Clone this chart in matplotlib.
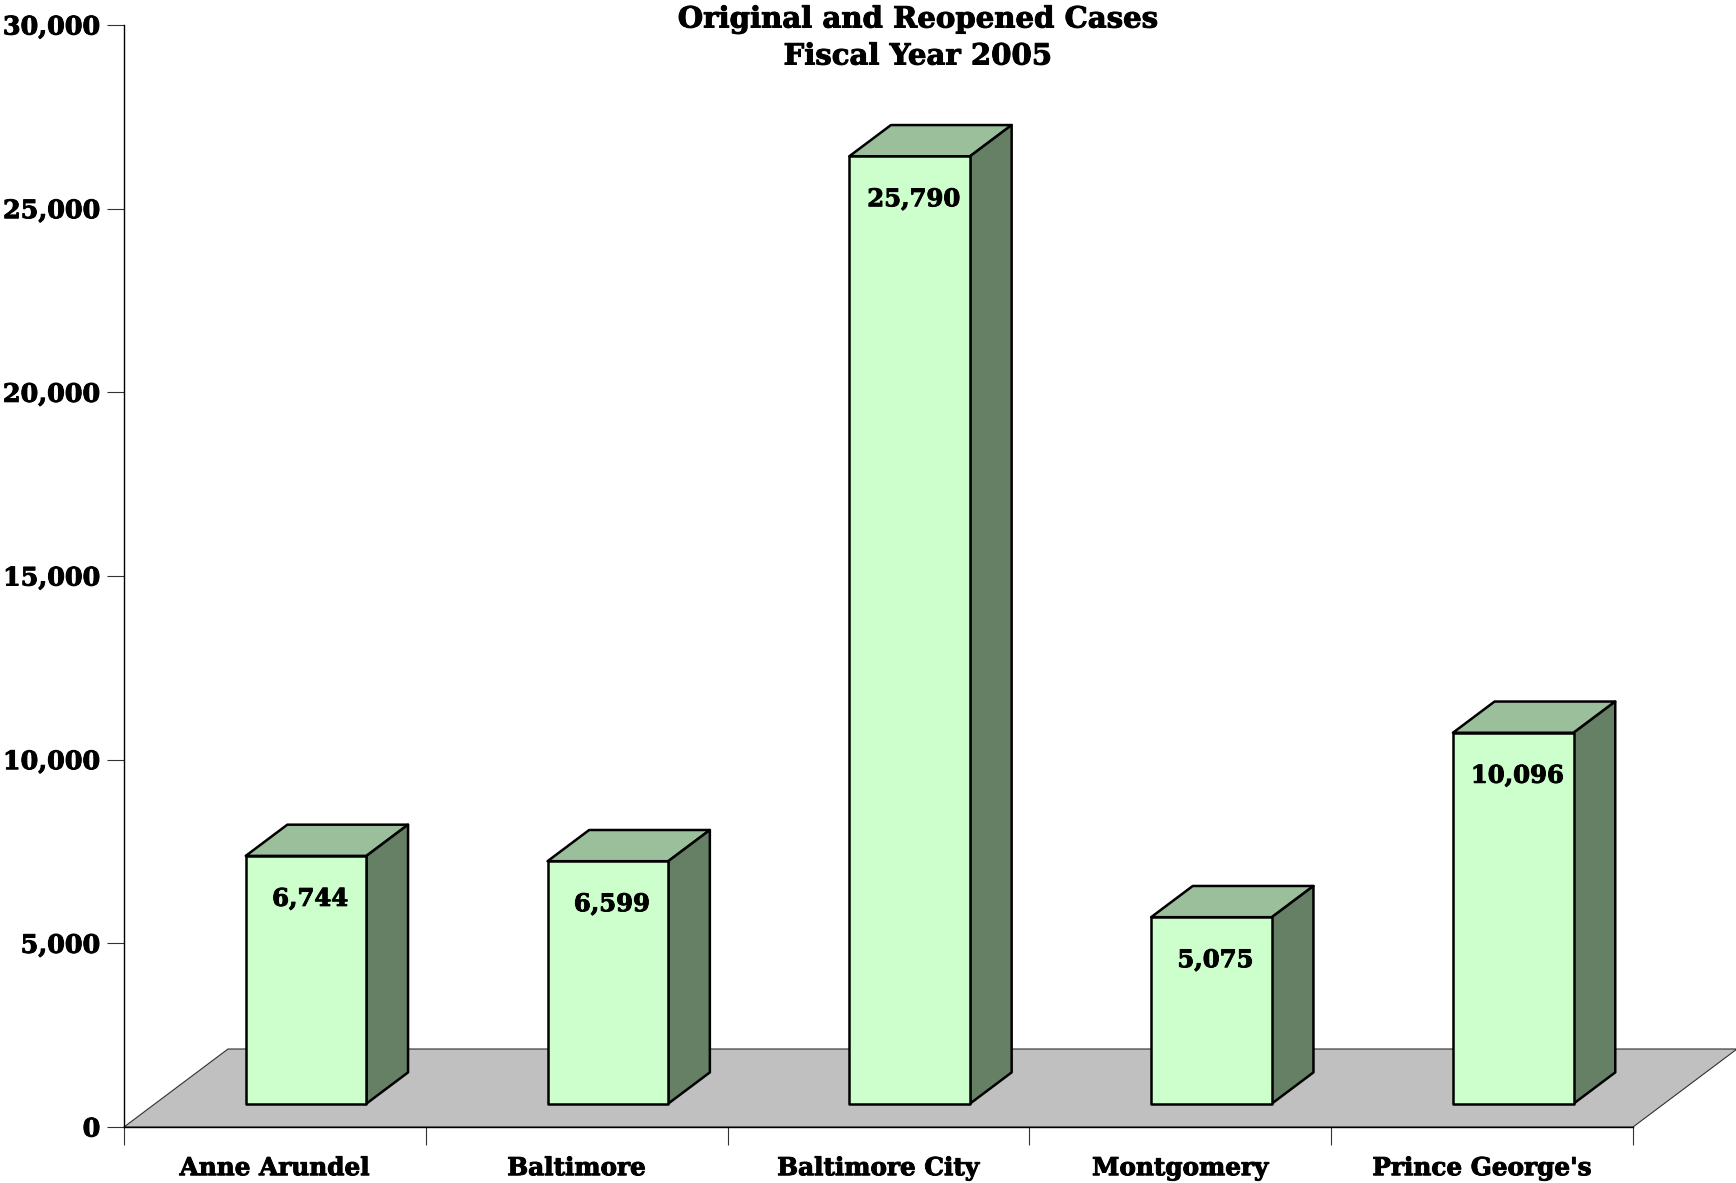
import matplotlib
matplotlib.use("Agg")
import matplotlib.pyplot as plt
from matplotlib.patches import Polygon
import matplotlib.patheffects as pe

categories = ["Anne Arundel", "Baltimore", "Baltimore City", "Montgomery", "Prince George's"]
values = [6744, 6599, 25790, 5075, 10096]
yticks = [0, 5000, 10000, 15000, 20000, 25000, 30000]
title_lines = ["Original and Reopened Cases", "Fiscal Year 2005"]

W, H, DPI = 1736, 1183, 100
FONT = "DejaVu Serif"
FRONT, TOP, SIDE, FLOOR = "#CCFFCC", "#9BBF9B", "#668066", "#C0C0C0"
HEAVY = [pe.withStroke(linewidth=0.7, foreground="black")]

fig = plt.figure(figsize=(W / DPI, H / DPI), dpi=DPI)
ax_l, ax_r, ax_b, ax_t = 124, 1633, 1127, 25
ax = fig.add_axes([ax_l / W, 1 - ax_b / H, (ax_r - ax_l) / W, (ax_b - ax_t) / H])
n = len(categories)
ax.set_xlim(0, n)
ax.set_ylim(0, 30000)

# depth offsets (style) converted from pixels into data units
px_per_cat = (ax_r - ax_l) / n
px_per_val = (ax_b - ax_t) / 30000
ddx = 104 / px_per_cat
ddy = 78 / px_per_val

# floor
floor = Polygon([(0, 0), (n, 0), (n + ddx, ddy), (ddx, ddy)], closed=True,
                facecolor=FLOOR, edgecolor="#303030", lw=0.8, clip_on=False, zorder=1)
ax.add_patch(floor)

bw = 0.4
for i, (c, v) in enumerate(zip(categories, values)):
    x0 = i + 0.5 - bw / 2 + 0.3 * ddx
    x1 = x0 + bw
    y0 = 0.3 * ddy
    y1 = y0 + v
    bx, by = 0.4 * ddx, 0.4 * ddy
    top = Polygon([(x0, y1), (x1, y1), (x1 + bx, y1 + by), (x0 + bx, y1 + by)],
                  facecolor=TOP, edgecolor="black", lw=1.8, joinstyle="round", clip_on=False, zorder=3)
    side = Polygon([(x1, y0), (x1 + bx, y0 + by), (x1 + bx, y1 + by), (x1, y1)],
                   facecolor=SIDE, edgecolor="black", lw=1.8, joinstyle="round", clip_on=False, zorder=3)
    front = Polygon([(x0, y0), (x1, y0), (x1, y1), (x0, y1)],
                    facecolor=FRONT, edgecolor="black", lw=1.8, joinstyle="round", clip_on=False, zorder=4)
    for p in (top, side, front):
        ax.add_patch(p)
    ax.annotate(f"{v:,}", xy=((x0 + x1) / 2, y1), xytext=(4, -43), textcoords="offset pixels",
                ha="center", va="center", fontsize=17.5, fontweight="bold", family=FONT, zorder=5,
                path_effects=HEAVY)

for s in ("top", "right"):
    ax.spines[s].set_visible(False)
ax.spines["left"].set_linewidth(1.0)
ax.spines["bottom"].set_linewidth(1.0)
ax.spines["bottom"].set_zorder(2)

ax.set_yticks(yticks)
ax.set_yticklabels([f"{t:,}" for t in yticks], fontsize=18.3, fontweight="bold", family=FONT)
ax.tick_params(axis="y", length=12.5, width=0.8, pad=4.5, color="#333333")

ax.set_xticks(range(n + 1))
ax.set_xticklabels([])
ax.tick_params(axis="x", which="major", length=13, width=0.8, color="#333333")
ax.set_xticks([i + 0.5 for i in range(n)], minor=True)
ax.set_xticklabels(categories, minor=True, fontsize=17.8, fontweight="bold", family=FONT)
ax.tick_params(axis="x", which="minor", length=0, pad=21)

for lbl in ax.get_yticklabels() + ax.get_xticklabels(minor=True):
    lbl.set_path_effects(HEAVY)

for line, yc in zip(title_lines, (19, 56)):
    fig.text(918 / W, 1 - yc / H, line, ha="center", va="center", fontsize=21,
             fontweight="bold", family=FONT, path_effects=HEAVY)

fig.savefig("out.png", dpi=DPI, facecolor="white")
